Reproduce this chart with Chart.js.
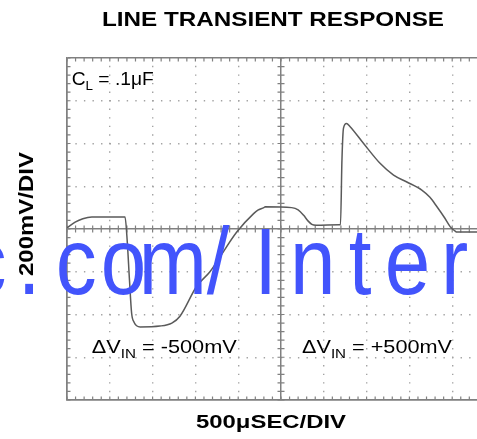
<!DOCTYPE html>
<html><head><meta charset="utf-8">
<script src="https://cdn.jsdelivr.net/npm/chart.js@4/dist/chart.umd.min.js"></script>
<style>
html,body{margin:0;padding:0;background:#fff;overflow:hidden;}
#wrap{width:477px;height:439px;overflow:hidden;position:relative;background:#fff;}
canvas{display:block;}
</style></head><body>
<div id="wrap"><canvas id="c" width="500" height="439" style="width:500px;height:439px"></canvas></div>
<script>
// ---- data (time in µs, output deviation in mV) ----
const timeUs  = [0, 95, 185, 290, 678, 705, 730, 755, 783, 855, 1085, 1225, 1320, 1515, 1670, 1983, 2180, 2230, 2300, 2315, 2625, 2700, 2765, 2815, 2860, 2910, 3180, 3195, 3212, 3230, 3265, 3305, 3465, 3660, 3815, 3970, 4145, 4240, 4322, 4405, 4478, 4535, 4555, 5000];
const deltaMv = [6, 32, 48, 56, 56, -66, -240, -394, -436, -458, -454, -440, -408, -268, -200, -14, 72, 88, 100, 104, 100, 90, 64, 38, 22, 18, 20, 20, 322, 472, 494, 480, 400, 306, 252, 220, 182, 148, 104, 56, 10, -10, -14, -14];

// ---- axis divisions ----
const xDivUs = 500, xDivs = 10;
const yDivMv = 200, yDivs = 8;

// ---- texts ----
const chartTitle = 'LINE TRANSIENT RESPONSE';
const xAxisLabel = '500\u03BCSEC/DIV';
const yAxisLabel = '200mV/DIV';
const capNote   = ['C', 'L', ' = .1\u03BCF'];
const downNote  = ['\u0394V', 'IN', ' = -500mV'];
const upNote    = ['\u0394V', 'IN', ' = +500mV'];
const watermark = 'c.com/Inter';

const FONT = '"Liberation Sans", Arial, Helvetica, sans-serif';
const SOLID = '#808080', DOT = '#a3a3a3';

function drawRuns(ctx, runs, x, y, align, targetW, weight, rot) {
  ctx.save();
  ctx.translate(x, y);
  if (rot) ctx.rotate(rot);
  let natural = 0;
  const widths = runs.map(([t, s]) => {
    ctx.font = `${weight} ${s}px ${FONT}`;
    const w = ctx.measureText(t).width; natural += w; return w;
  });
  const sx = targetW ? targetW / natural : 1;
  ctx.scale(sx, 1);
  let cx = align === 'center' ? -natural / 2 : 0;
  ctx.textBaseline = 'alphabetic'; ctx.textAlign = 'left'; ctx.fillStyle = '#000';
  runs.forEach(([t, s, dy], i) => {
    ctx.font = `${weight} ${s}px ${FONT}`;
    ctx.fillText(t, cx, dy || 0);
    cx += widths[i];
  });
  ctx.restore();
}

const isSolidX = v => v === 0 || v === xDivUs * xDivs / 2 || v === xDivUs * xDivs;
const isSolidY = v => v === 0 || Math.abs(v) === yDivMv * yDivs / 2;

const scopePlugin = {
  id: 'scope',
  beforeDatasetsDraw(chart) {
    const {ctx, chartArea: a, scales: {x, y}} = chart;
    const x0 = x.getPixelForValue(xDivUs * xDivs / 2);
    const y0 = y.getPixelForValue(0);
    ctx.save();
    ctx.strokeStyle = SOLID; ctx.lineWidth = 1.2;
    ctx.beginPath();
    for (let i = 0; i <= xDivs * 5; i++) {
      const px = x.getPixelForValue(i * xDivUs / 5);
      ctx.moveTo(px, y0 - 3.5); ctx.lineTo(px, y0 + 3.5);
      ctx.moveTo(px, a.top); ctx.lineTo(px, a.top + 3.5);
      ctx.moveTo(px, a.bottom); ctx.lineTo(px, a.bottom - 3.5);
    }
    for (let j = -yDivs * 5 / 2; j <= yDivs * 5 / 2; j++) {
      const py = y.getPixelForValue(j * yDivMv / 5);
      ctx.moveTo(x0 - 3.5, py); ctx.lineTo(x0 + 3.5, py);
      ctx.moveTo(a.left, py); ctx.lineTo(a.left + 3.5, py);
    }
    ctx.stroke();
    ctx.restore();
  },
  afterDraw(chart) {
    const {ctx, scales: {x, y}} = chart;
    // titles
    drawRuns(ctx, [[chartTitle, 20]], 273, 25.5, 'center', 342, 'bold');
    drawRuns(ctx, [[xAxisLabel, 18]], 271, 428, 'center', 150, 'bold');
    drawRuns(ctx, [[yAxisLabel, 20]], 33, 214, 'center', 124, 'bold', -Math.PI / 2);
    // annotations anchored in data space
    drawRuns(ctx, [[capNote[0], 18], [capNote[1], 12.6, 5], [capNote[2], 18]],
      x.getPixelForValue(55), y.getPixelForValue(676), 'left', 82, 'normal');
    drawRuns(ctx, [[downNote[0], 18], [downNote[1], 12.6, 5], [downNote[2], 18]],
      x.getPixelForValue(289), y.getPixelForValue(-580), 'left', 145, 'normal');
    drawRuns(ctx, [[upNote[0], 18], [upNote[1], 12.6, 5], [upNote[2], 18]],
      x.getPixelForValue(2745), y.getPixelForValue(-580), 'left', 150, 'normal');
    // watermark overlay
    ctx.save();
    ctx.fillStyle = '#4254fc';
    ctx.font = `94px ${FONT}`;
    ctx.textAlign = 'center'; ctx.textBaseline = 'alphabetic';
    const pitch = 47.3, start = -18.3;
    [...watermark].forEach((ch, i) => {
      ctx.save();
      ctx.translate(i === 0 ? -14 : start + i * pitch + (ch === 'm' ? 2 : 0), 294);
      ctx.scale(0.87, 1);
      ctx.fillText(ch, 0, 0);
      ctx.restore();
    });
    ctx.restore();
  }
};

const points = timeUs.map((t, i) => ({x: t, y: deltaMv[i]}));

new Chart(document.getElementById('c'), {
  type: 'line',
  data: { datasets: [{
    data: points,
    borderColor: '#5a5a5a',
    borderWidth: 1.5,
    pointRadius: 0,
    cubicInterpolationMode: 'monotone',
    fill: false
  }]},
  options: {
    responsive: false,
    devicePixelRatio: 1,
    animation: false,
    layout: { padding: { left: 67, top: 58, right: 5, bottom: 39 } },
    plugins: { legend: { display: false }, tooltip: { enabled: false }, title: { display: false } },
    scales: {
      x: {
        type: 'linear', min: 0, max: xDivUs * xDivs,
        afterFit: s => { s.height = 0; },
        ticks: { display: false, stepSize: xDivUs },
        grid: {
          drawTicks: false,
          color: c => isSolidX(c.tick && c.tick.value) ? SOLID : DOT,
          lineWidth: c => isSolidX(c.tick && c.tick.value) ? 1.5 : 1.4
        },
        border: {
          display: true, color: SOLID, width: 1.5,
          dash: c => {
            if (!c.tick || isSolidX(c.tick.value)) return [];
            const p = c.chart.chartArea.height / (yDivs * 5);
            return [1.4, p - 1.4];
          },
          dashOffset: 0.7
        }
      },
      y: {
        type: 'linear', min: -yDivMv * yDivs / 2, max: yDivMv * yDivs / 2,
        afterFit: s => { s.width = 0; },
        ticks: { display: false, stepSize: yDivMv },
        grid: {
          drawTicks: false,
          color: c => isSolidY(c.tick && c.tick.value) ? SOLID : DOT,
          lineWidth: c => isSolidY(c.tick && c.tick.value) ? 1.5 : 1.4
        },
        border: {
          display: true, color: SOLID, width: 1.5,
          dash: c => {
            if (!c.tick || isSolidY(c.tick.value)) return [];
            const p = c.chart.chartArea.width / (xDivs * 5);
            return [1.4, p - 1.4];
          },
          dashOffset: 0.7
        }
      }
    }
  },
  plugins: [scopePlugin]
});
</script>
</body></html>
